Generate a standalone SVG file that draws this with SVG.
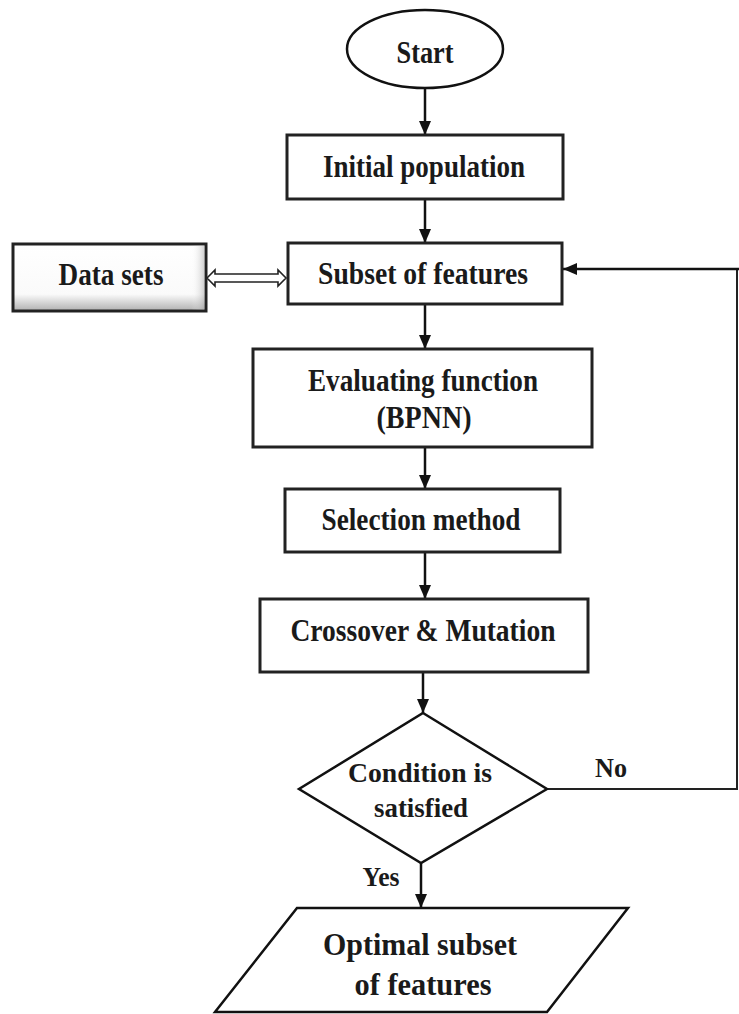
<svg xmlns="http://www.w3.org/2000/svg" width="739" height="1014" viewBox="0 0 739 1014">
<defs>
<marker id="arr" viewBox="0 0 14 12" refX="14" refY="6" markerWidth="14" markerHeight="12" markerUnits="userSpaceOnUse" orient="auto">
<path d="M0,0 L14,6 L0,12 Z" fill="#111"/>
</marker>
<linearGradient id="shade" x1="0" y1="0" x2="0" y2="1">
<stop offset="0" stop-color="#ffffff"/>
<stop offset="0.75" stop-color="#fafafa"/>
<stop offset="1" stop-color="#b0b0b0"/>
</linearGradient>
<linearGradient id="shadeR" x1="0" y1="0" x2="1" y2="0">
<stop offset="0.93" stop-color="#ffffff" stop-opacity="0"/>
<stop offset="1" stop-color="#a0a0a0" stop-opacity="0.5"/>
</linearGradient>
</defs>
<style>
.box{fill:#fff;stroke:#222;stroke-width:3}
.shape{fill:#fff;stroke:#111;stroke-width:2.5}
.t{font-family:"Liberation Serif","Times New Roman",serif;font-weight:bold;font-size:31px;fill:#1a1a1a;text-anchor:middle}
.s{font-size:28px}
.c{fill:none;stroke:#111;stroke-width:2.5}
.thin{fill:none;stroke:#222;stroke-width:2}
</style>
<rect width="739" height="1014" fill="#fff"/>
<g id="connectors">
<line class="c" x1="425" y1="88" x2="425" y2="135" marker-end="url(#arr)"/>
<line class="c" x1="425" y1="199" x2="425" y2="243" marker-end="url(#arr)"/>
<line class="c" x1="425" y1="304" x2="425" y2="349" marker-end="url(#arr)"/>
<line class="c" x1="425" y1="447" x2="425" y2="489" marker-end="url(#arr)"/>
<line class="c" x1="425" y1="552" x2="425" y2="599" marker-end="url(#arr)"/>
<line class="c" x1="423" y1="672" x2="423" y2="713" marker-end="url(#arr)"/>
<line class="c" x1="421" y1="863" x2="421" y2="908" marker-end="url(#arr)"/>
<polyline class="thin" points="547,789 737,789 737,269"/>
<line class="c" x1="739" y1="269" x2="563" y2="269" marker-end="url(#arr)"/>
<polygon points="207,278 215,270 215,274 278,274 278,270 286,278 278,286 278,282 215,282 215,286" fill="#fff" stroke="#222" stroke-width="1.6"/>
<text class="t s" x="611" y="777" textLength="32" lengthAdjust="spacingAndGlyphs">No</text>
<text class="t s" x="381" y="886" textLength="37" lengthAdjust="spacingAndGlyphs">Yes</text>
</g>
<g id="start">
<ellipse class="shape" cx="425" cy="49" rx="78" ry="39"/>
<text class="t" x="425" y="63" textLength="57" lengthAdjust="spacingAndGlyphs">Start</text>
</g>
<g id="initial-population">
<rect class="box" x="287" y="135" width="276" height="64"/>
<text class="t" x="424" y="177" textLength="202" lengthAdjust="spacingAndGlyphs">Initial population</text>
</g>
<g id="data-sets">
<rect x="13" y="244" width="193" height="67" fill="url(#shade)" stroke="#222" stroke-width="3"/>
<rect x="14.5" y="245.5" width="190" height="64" fill="url(#shadeR)"/>
<text class="t" x="111" y="285" textLength="105" lengthAdjust="spacingAndGlyphs">Data sets</text>
</g>
<g id="subset-of-features">
<rect class="box" x="288" y="243" width="274" height="61"/>
<text class="t" x="423" y="284" textLength="210" lengthAdjust="spacingAndGlyphs">Subset of features</text>
</g>
<g id="evaluating-function">
<rect class="box" x="253" y="349" width="339" height="98"/>
<text class="t" x="423" y="391" textLength="230" lengthAdjust="spacingAndGlyphs">Evaluating function</text>
<text class="t" x="424" y="428" textLength="95" lengthAdjust="spacingAndGlyphs">(BPNN)</text>
</g>
<g id="selection-method">
<rect class="box" x="285" y="489" width="275" height="63"/>
<text class="t" x="421" y="530" textLength="199" lengthAdjust="spacingAndGlyphs">Selection method</text>
</g>
<g id="crossover-mutation">
<rect class="box" x="260" y="599" width="328" height="73"/>
<text class="t" x="423" y="641" textLength="265" lengthAdjust="spacingAndGlyphs">Crossover &amp; Mutation</text>
</g>
<g id="condition">
<polygon class="shape" points="423,713 547,789 421,863 299,789"/>
<text class="t s" x="420" y="782" textLength="144" lengthAdjust="spacingAndGlyphs">Condition is</text>
<text class="t s" x="421" y="817" textLength="94" lengthAdjust="spacingAndGlyphs">satisfied</text>
</g>
<g id="optimal-subset">
<polygon class="shape" points="297,908 628,908 547,1012 215,1012"/>
<text class="t" x="420" y="955" font-size="33" textLength="194" lengthAdjust="spacingAndGlyphs">Optimal subset</text>
<text class="t" x="423" y="995" font-size="33" textLength="137" lengthAdjust="spacingAndGlyphs">of features</text>
</g>
</svg>
